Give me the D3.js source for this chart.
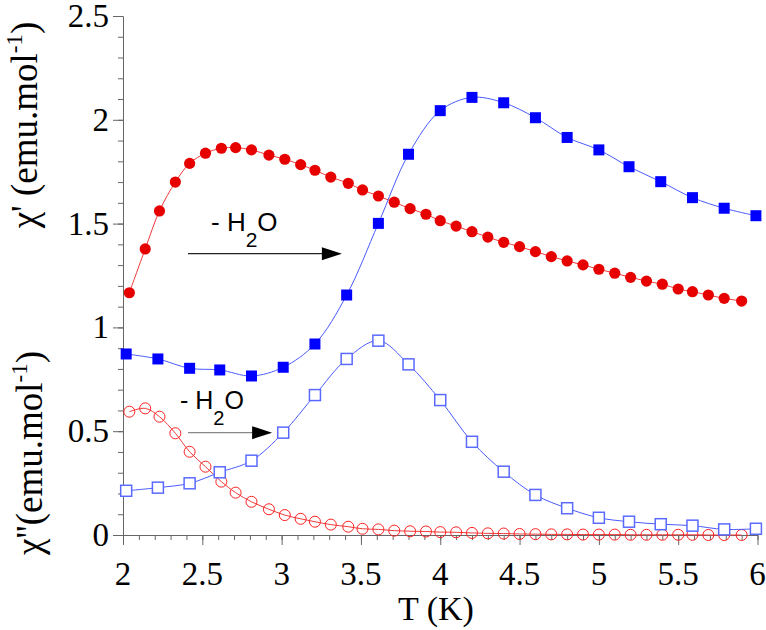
<!DOCTYPE html>
<html>
<head>
<meta charset="utf-8">
<script src="https://cdn.jsdelivr.net/npm/d3@7"></script>
<style>
  html, body { margin: 0; padding: 0; background: #fff; }
  svg { display: block; }
</style>
</head>
<body>
<svg id="chart" width="766" height="630"></svg>
<script>
// ---------- data ----------
const tCircles = [2.04, 2.14, 2.23, 2.33, 2.42, 2.52, 2.62, 2.71, 2.81, 2.92,
                  3.02, 3.12, 3.21, 3.31, 3.42, 3.51, 3.61, 3.71, 3.81, 3.91,
                  4.00, 4.10, 4.20, 4.30, 4.40, 4.50, 4.60, 4.70, 4.80, 4.90,
                  5.00, 5.10, 5.20, 5.30, 5.40, 5.50, 5.59, 5.69, 5.79, 5.90];
// chi' of hydrated sample (red filled circles)
const chiPrimeRed = [1.167, 1.378, 1.561, 1.700, 1.790, 1.839, 1.863, 1.866, 1.855, 1.830,
                     1.810, 1.784, 1.757, 1.724, 1.694, 1.662, 1.633, 1.603, 1.572, 1.545,
                     1.514, 1.488, 1.461, 1.435, 1.410, 1.389, 1.365, 1.341, 1.320, 1.301,
                     1.280, 1.261, 1.241, 1.223, 1.208, 1.185, 1.172, 1.156, 1.140, 1.127];
// chi'' of hydrated sample (red open circles)
const chiDoubleRed = [0.594, 0.610, 0.570, 0.490, 0.401, 0.329, 0.257, 0.204, 0.160, 0.124,
                      0.096, 0.078, 0.064, 0.050, 0.040, 0.030, 0.027, 0.021, 0.018, 0.017,
                      0.014, 0.013, 0.010, 0.008, 0.007, 0.005, 0.004, 0.003, 0.003, 0.002,
                      0.002, 0.002, 0.001, 0.001, 0.001, 0.001, 0.001, 0.000, 0.000, 0.000];
const tSquares = [2.02, 2.22, 2.42, 2.61, 2.81, 3.01, 3.21, 3.41, 3.61, 3.80, 4.00,
                  4.20, 4.40, 4.60, 4.80, 5.00, 5.19, 5.39, 5.59, 5.79, 5.99];
// chi' of dehydrated sample (blue filled squares)
const chiPrimeBlue = [0.872, 0.848, 0.803, 0.795, 0.766, 0.808, 0.920, 1.156, 1.501, 1.834, 2.044,
                      2.108, 2.082, 2.010, 1.915, 1.855, 1.774, 1.702, 1.625, 1.574, 1.538];
// chi'' of dehydrated sample (blue open squares)
const chiDoubleBlue = [0.213, 0.228, 0.249, 0.302, 0.358, 0.493, 0.674, 0.848, 0.936, 0.822, 0.650,
                       0.449, 0.305, 0.193, 0.129, 0.083, 0.064, 0.052, 0.045, 0.027, 0.030];
const xTicks = [2, 2.5, 3, 3.5, 4, 4.5, 5, 5.5, 6];
const xTickLabels = ["2", "2.5", "3", "3.5", "4", "4.5", "5", "5.5", "6"];
const yTicks = [0, 0.5, 1, 1.5, 2, 2.5];
const yTickLabels = ["0", "0.5", "1", "1.5", "2", "2.5"];
const xMinor = d3.range(20, 61).map(v => v / 10);
const yMinor = d3.range(0, 26).map(v => v / 10);

// ---------- layout ----------
const svg = d3.select("#chart");
const x = d3.scaleLinear().domain([2, 6]).range([123, 757.5]);
const y = d3.scaleLinear().domain([0, 2.5]).range([535, 16]);
const SERIF = "Liberation Serif";
const SANS = "Liberation Sans";
const axisColor = "#666";

// ---------- axes (lines and ticks via d3.axis) ----------
function styleAxis(g) {
  g.selectAll(".tick line").attr("stroke", axisColor);
  g.selectAll(".domain").attr("stroke", axisColor);
  g.selectAll(".tick text").remove();
}
svg.append("g").attr("transform", `translate(0,${y(0)})`)
  .call(d3.axisBottom(x).tickValues(xMinor).tickSize(5).tickSizeOuter(0).tickFormat(""))
  .call(styleAxis);
svg.append("g").attr("transform", `translate(0,${y(0)})`)
  .call(d3.axisBottom(x).tickValues(xTicks).tickSize(10).tickSizeOuter(0).tickFormat(""))
  .call(styleAxis);
svg.append("g").attr("transform", `translate(${x(2)},0)`)
  .call(d3.axisLeft(y).tickValues(yMinor).tickSize(5).tickSizeOuter(0).tickFormat(""))
  .call(styleAxis);
svg.append("g").attr("transform", `translate(${x(2)},0)`)
  .call(d3.axisLeft(y).tickValues(yTicks).tickSize(10).tickSizeOuter(0).tickFormat(""))
  .call(styleAxis);

// tick labels
svg.append("g").selectAll("text").data(xTicks).join("text")
  .attr("font-family", SERIF).attr("font-size", 33).attr("fill", "#000")
  .attr("text-anchor", "middle")
  .attr("x", d => x(d)).attr("y", y(0) + 50)
  .text((d, i) => xTickLabels[i]);
svg.append("g").selectAll("text").data(yTicks).join("text")
  .attr("font-family", SERIF).attr("font-size", 33).attr("fill", "#000")
  .attr("text-anchor", "end")
  .attr("x", x(2) - 14).attr("y", d => y(d) + 11)
  .text((d, i) => yTickLabels[i]);

// ---------- axis titles ----------
svg.append("text").attr("font-family", SERIF).attr("font-size", 34)
  .attr("x", 436).attr("y", 620).attr("text-anchor", "middle").text("T (K)");

function yTitle(tx, ty, main) {
  const t = svg.append("text").attr("font-family", SERIF).attr("font-size", 37)
    .attr("transform", `translate(${tx},${ty}) rotate(-90)`)
    .attr("text-anchor", "middle");
  t.append("tspan").text(main);
  t.append("tspan").attr("font-size", 23).attr("dy", -15).text("-1");
  t.append("tspan").attr("dy", 15).text(")");
}
yTitle(37, 125, "\u03c7' (emu.mol");
yTitle(42, 453, "\u03c7''(emu.mol");

// ---------- series ----------
const line = d3.line().curve(d3.curveCatmullRom.alpha(0.5));
const ptsRed1 = tCircles.map((t, i) => [x(t), y(chiPrimeRed[i])]);
const ptsRed2 = tCircles.map((t, i) => [x(t), y(chiDoubleRed[i])]);
const ptsBlue1 = tSquares.map((t, i) => [x(t), y(chiPrimeBlue[i])]);
const ptsBlue2 = tSquares.map((t, i) => [x(t), y(chiDoubleBlue[i])]);

svg.append("path").attr("d", line(ptsRed2)).attr("fill", "none").attr("stroke", "#f03a3a").attr("stroke-width", 1);
svg.append("g").selectAll("circle").data(ptsRed2).join("circle")
  .attr("cx", d => d[0]).attr("cy", d => d[1]).attr("r", 5.5)
  .attr("fill", "none").attr("stroke", "#ff2020").attr("stroke-width", 1);

svg.append("path").attr("d", line(ptsBlue2)).attr("fill", "none").attr("stroke", "#4a5aff").attr("stroke-width", 1);
svg.append("g").selectAll("rect").data(ptsBlue2).join("rect")
  .attr("x", d => d[0] - 5.5).attr("y", d => d[1] - 5.5).attr("width", 11).attr("height", 11)
  .attr("fill", "#fff").attr("stroke", "#5a6aff").attr("stroke-width", 1.5);

svg.append("path").attr("d", line(ptsRed1)).attr("fill", "none").attr("stroke", "#f03a3a").attr("stroke-width", 1);
svg.append("g").selectAll("circle").data(ptsRed1).join("circle")
  .attr("cx", d => d[0]).attr("cy", d => d[1]).attr("r", 5.6)
  .attr("fill", "#e60000");

svg.append("path").attr("d", line(ptsBlue1)).attr("fill", "none").attr("stroke", "#4a5aff").attr("stroke-width", 1);
svg.append("g").selectAll("rect").data(ptsBlue1).join("rect")
  .attr("x", d => d[0] - 5.5).attr("y", d => d[1] - 5.5).attr("width", 11).attr("height", 11)
  .attr("fill", "#0000ff");

// ---------- annotations ----------
function h2o(tx, ty, size, sub) {
  const t = svg.append("text").attr("font-family", SANS).attr("font-size", size)
    .attr("x", tx).attr("y", ty);
  t.append("tspan").text("- H");
  t.append("tspan").attr("font-size", sub).attr("dy", 16).text("2");
  t.append("tspan").attr("dy", -16).text("O");
}
function arrow(t0, t1, v, color) {
  const x0 = x(t0), x1 = x(t1), yy = y(v);
  svg.append("line").attr("x1", x0).attr("x2", x1 - 18).attr("y1", yy).attr("y2", yy)
    .attr("stroke", color).attr("stroke-width", 1.3);
  svg.append("path").attr("d", `M${x1},${yy} L${x1 - 20},${yy - 6.5} L${x1 - 20},${yy + 6.5} Z`).attr("fill", "#000");
}
h2o(211, 231, 26, 21);
arrow(2.41, 3.38, 1.355, "#222");
h2o(180, 409, 25, 20);
arrow(2.41, 2.94, 0.493, "#888");
</script>
</body>
</html>
